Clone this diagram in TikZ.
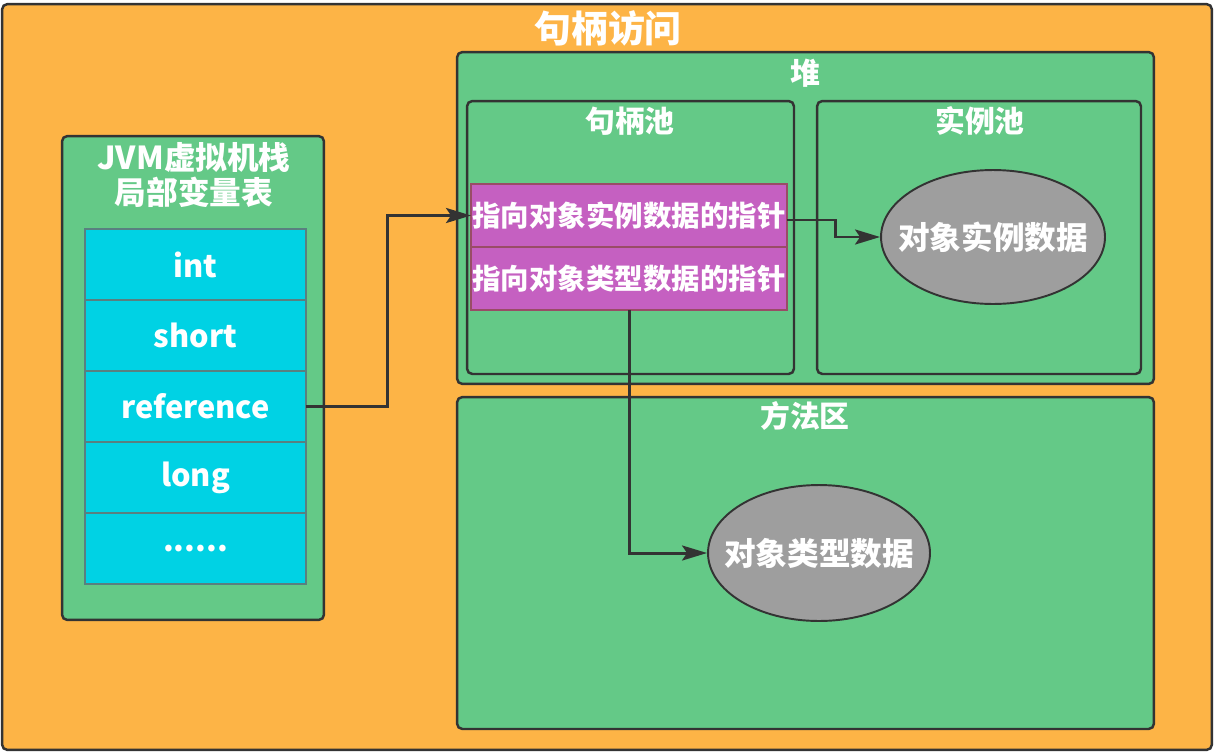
\documentclass[tikz,border=0pt]{standalone}
\usepackage{fontspec}
\newfontfamily\cjk{Noto Sans CJK SC}
\usepackage{xcolor}
\usetikzlibrary{positioning, arrows.meta, shapes.geometric}

\definecolor{bgorange}{HTML}{FDB446}
\definecolor{areagreen}{HTML}{64C987}
\definecolor{slotcyan}{HTML}{00D2E4}
\definecolor{ptrpurple}{HTML}{C560C1}
\definecolor{objgray}{HTML}{9E9E9E}
\definecolor{edge}{HTML}{333333}

\begin{document}
\begin{tikzpicture}[
  x=0.02cm, y=-0.02cm,
  >=Stealth,
  area/.style={draw=edge, line width=1.4pt, rounded corners=3pt, fill=areagreen},
  slot/.style={draw=gray!70!teal, line width=0.8pt, fill=slotcyan, minimum width=4.42cm, minimum height=1.42cm, outer sep=0pt, font=\cjk\bfseries\fontsize{17.5}{19}\selectfont, text=white},
  pointer/.style={draw=gray!60!purple, line width=0.8pt, fill=ptrpurple, minimum width=6.32cm, minimum height=1.26cm, outer sep=0pt, inner sep=0pt, font=\cjk\bfseries\fontsize{16.2}{18}\selectfont, text=white},
  object/.style={ellipse, draw=edge, line width=1.1pt, fill=objgray},
  objtext/.style={font=\cjk\bfseries\fontsize{18}{20}\selectfont, text=white},
  heading/.style={font=\cjk\bfseries\fontsize{17}{20}\selectfont, text=white, align=center},
  arrow/.style={-{Stealth[length=5mm, width=3mm, inset=1mm]}, line width=1.7pt, color=edge},
]
\useasboundingbox (0,0) rectangle (1216,754);

% ================= 外框 =================
\node[area, fill=bgorange, minimum width=24.2cm, minimum height=14.92cm] (outer) at (607,377) {};
\node[heading, font=\cjk\bfseries\fontsize{21}{24}\selectfont] (outertitle) at (608,28) {句柄访问};

% ================= 堆 =================
\node[area, minimum width=13.94cm, minimum height=6.64cm] (heap) at (805.5,218) {};
\node[heading] (heaptitle) at (805,73) {堆};

% 句柄池
\node[area, minimum width=6.54cm, minimum height=5.46cm] (handlepool) at (630.5,237.5) {};
\node[heading] (handletitle) at (630,121) {句柄池};

% 实例池
\node[area, minimum width=6.48cm, minimum height=5.46cm] (instpool) at (979,237.5) {};
\node[heading] (insttitle) at (980,121) {实例池};

% 句柄中的两个指针
\node[pointer] (ptrinst) at (629,215.5) {指向对象实例数据的指针};
\node[pointer, below=0pt of ptrinst] (ptrtype) {指向对象类型数据的指针};

% 对象实例数据
\node[object, minimum width=4.48cm, minimum height=2.68cm] (objinst) at (993,237) {};
\node[objtext] (objinsttext) at (objinst) {对象实例数据};

% ================= 方法区 =================
\node[area, minimum width=13.94cm, minimum height=6.64cm] (method) at (805.5,563) {};
\node[heading] (methodtitle) at (805,416) {方法区};

% 对象类型数据
\node[object, minimum width=4.44cm, minimum height=2.72cm] (objtype) at (819,553) {};
\node[objtext] (objtypetext) at (objtype) {对象类型数据};

% ================= JVM虚拟机栈 =================
\node[area, minimum width=5.24cm, minimum height=9.68cm] (stack) at (193,378) {};
\node[heading, font=\cjk\bfseries\fontsize{18}{19.5}\selectfont] (stacktitle) at (194,175) {JVM虚拟机栈\\局部变量表};

% 局部变量表的槽位
\node[slot] (int) at (195.5,264.5) {int};
\node[slot, below=0pt of int] (short) {short};
\node[slot, below=0pt of short] (ref) {reference};
\node[slot, below=0pt of ref] (long) {long};
\node[slot, below=0pt of long] (more) {......};

% ================= 连线 =================
% 1. reference -> 句柄
\draw[arrow] (ref.east) -- ++(82,0) |- (ptrinst.west);

% 2. 实例指针 -> 对象实例数据
\draw[arrow] ([yshift=-4.5*0.02cm]ptrinst.east) -- ++(49,0) |- (objinst.west);

% 3. 类型指针 -> 对象类型数据
\draw[arrow] (ptrtype.south) |- (objtype.west);

\end{tikzpicture}
\end{document}
